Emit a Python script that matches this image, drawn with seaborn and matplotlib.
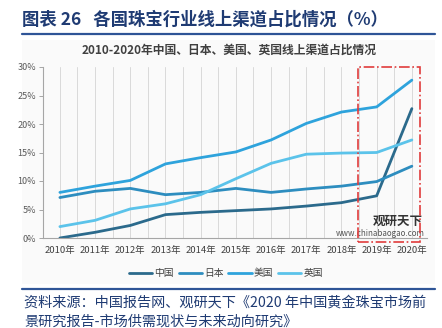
import matplotlib
matplotlib.use("Agg")
import matplotlib.pyplot as plt
import seaborn as sns
import pandas as pd
from matplotlib.patches import Rectangle
from matplotlib.lines import Line2D

years = ["2010年", "2011年", "2012年", "2013年", "2014年", "2015年",
         "2016年", "2017年", "2018年", "2019年", "2020年"]
china = [0.0, 1.0, 2.2, 4.1, 4.5, 4.8, 5.1, 5.6, 6.2, 7.4, 22.7]
japan = [7.1, 8.2, 8.7, 7.6, 8.0, 8.7, 8.0, 8.6, 9.1, 9.9, 12.6]
usa = [8.0, 9.1, 10.1, 13.0, 14.1, 15.1, 17.2, 20.1, 22.1, 23.0, 27.7]
uk = [2.0, 3.1, 5.1, 6.0, 7.6, 10.4, 13.1, 14.7, 14.9, 15.0, 17.2]
series_names = ["中国", "日本", "美国", "英国"]
yticks = [0, 5, 10, 15, 20, 25, 30]

colors = ["#2b6a8c", "#2d8dbf", "#2ea3dc", "#5bc3ea"]

sns.set_theme(style="white")
plt.rcParams["font.family"] = ["Noto Sans CJK SC", "DejaVu Sans"]

rows = []
for name, vals in zip(series_names, [china, japan, usa, uk]):
    for i, v in enumerate(vals):
        rows.append({"年份": i, "值": v, "国家": name})
df = pd.DataFrame(rows)

W, H = 442, 328
fig = plt.figure(figsize=(W / 100, H / 100), dpi=100)
fig.patch.set_facecolor("white")

def fx(px):
    return px / W

def fy(py):
    return 1 - py / H

# light background of chart image
bg = Rectangle((fx(22), fy(284)), fx(435) - fx(22), fy(40) - fy(284),
               transform=fig.transFigure, facecolor="#fafafa",
               edgecolor="none", zorder=-10)
fig.patches.append(bg)

ax = fig.add_axes([fx(43), fy(238), fx(427) - fx(43), fy(67) - fy(238)])
ax.set_facecolor("#fafafa")
ax.set_zorder(1)

sns.lineplot(data=df, x="年份", y="值", hue="国家", hue_order=series_names,
             palette=colors, linewidth=2.0, ax=ax, legend=False)

ax.set_xlim(-0.48, 10.43)
ax.set_ylim(0, 30)
ax.set_xticks(range(len(years)))
ax.set_xticklabels(years, fontsize=6.8, color="#404040")
ax.set_yticks(yticks)
ax.set_yticklabels([f"{t}%" for t in yticks], fontsize=6.5, color="#595959")
ax.set_xlabel("")
ax.set_ylabel("")
for k in range(21):
    ax.axvline(k * 0.5, color="#d9d9d9", lw=0.7, zorder=0)
for s in ["top", "right"]:
    ax.spines[s].set_visible(False)
for s in ["left", "bottom"]:
    ax.spines[s].set_color("#a6a6a6")
    ax.spines[s].set_linewidth(0.8)
ax.tick_params(axis="y", length=3, width=0.7, color="#a6a6a6", pad=2, left=True)
ax.tick_params(axis="x", length=0, pad=6)

# red dash-dot highlight box
x0 = (358 - 60) / 35.2
x1 = (420 - 60) / 35.2
ax.add_patch(Rectangle((x0, -0.7), x1 - x0, 30.7, fill=False, edgecolor="#e03c3c",
                       linestyle="-.", linewidth=1.2, clip_on=False, zorder=5))

# watermark
ax.text(fx(398), fy(221), "观研天下", fontsize=9, fontweight="bold",
        color="#333333", ha="center", va="center", transform=fig.transFigure)
ax.text(fx(380), fy(233), "www.chinabaogao.com", fontsize=5.8,
        color="#555555", ha="center", va="center", transform=fig.transFigure)

# titles
fig.text(fx(22), fy(20), "图表 26   各国珠宝行业线上渠道占比情况（%）", fontsize=12.5,
         fontweight="bold", color="#1f3b73", ha="left", va="center")
fig.add_artist(Line2D([fx(22), fx(435)], [fy(34), fy(34)], transform=fig.transFigure,
                      color="#2f5597", lw=1.6))
fig.text(fx(229), fy(50), "2010-2020年中国、日本、美国、英国线上渠道占比情况",
         fontsize=8.5, fontweight="bold", color="#404040", ha="center", va="center")

# legend
handles = [Line2D([0], [0], color=c, lw=2.0) for c in colors]
fig.legend(handles, series_names, loc="center", bbox_to_anchor=(fx(226), fy(273)),
           ncol=4, frameon=False, fontsize=7, handlelength=2.4, handletextpad=0.2,
           columnspacing=0.5, labelcolor="#404040")

# bottom
fig.add_artist(Line2D([fx(22), fx(435)], [fy(289), fy(289)], transform=fig.transFigure,
                      color="#2f5597", lw=1.6))
fig.text(fx(24), fy(303), "资料来源：中国报告网、观研天下《2020 年中国黄金珠宝市场前",
         fontsize=10.2, color="#1f3b73", ha="left", va="center")
fig.text(fx(24), fy(322), "景研究报告-市场供需现状与未来动向研究》",
         fontsize=10.2, color="#1f3b73", ha="left", va="center")

fig.savefig("out.png", dpi=100)
